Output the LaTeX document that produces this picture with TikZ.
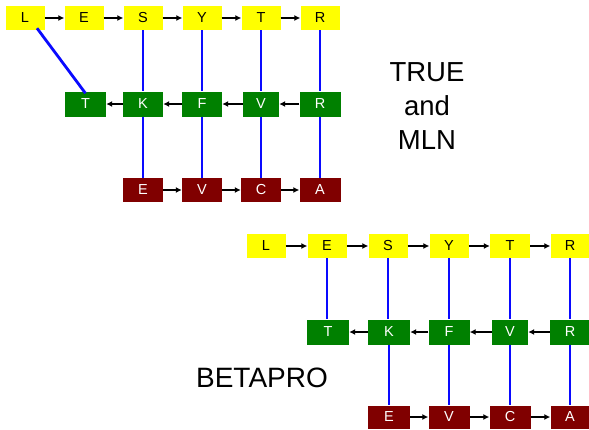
\documentclass[tikz,border=0pt]{standalone}
\usepackage{fontspec}
\setmainfont{Liberation Sans}
\usetikzlibrary{arrows.meta}
\definecolor{boxyellow}{RGB}{255,255,0}
\definecolor{boxgreen}{RGB}{0,128,0}
\definecolor{boxred}{RGB}{128,0,0}
\definecolor{linkblue}{RGB}{10,10,255}
\begin{document}
\begin{tikzpicture}[x=1pt,y=-1pt,
  cell/.style={minimum width=39pt,minimum height=24pt,inner sep=0pt,font=\fontsize{14.5}{14.5}\selectfont},
  ybox/.style={cell,fill=boxyellow,text=black},
  gbox/.style={cell,fill=boxgreen,text=white,minimum width=40pt,minimum height=25pt},
  rbox/.style={cell,fill=boxred,text=white,minimum width=40pt},
  flow/.style={black,line width=1.4pt,-{Latex[length=6pt,width=6pt]}},
  link/.style={linkblue,line width=2pt},
  biglabel/.style={align=center,font=\fontsize{27.5}{34}\selectfont}]
\useasboundingbox (0,0) rectangle (589,429);
\fill[white] (0,0) rectangle (589,429);

% ---- upper diagram ----
\node[ybox] (aL) at (25,18) {L};
\node[ybox] (aE) at (84,18) {E};
\node[ybox] (aS) at (143,18) {S};
\node[ybox] (aY) at (202,18) {Y};
\node[ybox] (aT) at (261,18) {T};
\node[ybox] (aR) at (320,18) {R};

\node[gbox,minimum width=41pt] (bT) at (85.5,104) {T};
\node[gbox] (bK) at (143,104) {K};
\node[gbox] (bF) at (202,104) {F};
\node[gbox,minimum width=36pt] (bV) at (261,104) {V};
\node[gbox,minimum width=41pt] (bR) at (320,104) {R};

\node[rbox] (cE) at (143,190) {E};
\node[rbox] (cV) at (202,190) {V};
\node[rbox] (cC) at (261,190) {C};
\node[rbox,minimum width=41pt] (cA) at (320,190) {A};

\draw[flow] (aL) -- (aE);
\draw[flow] (aE) -- (aS);
\draw[flow] (aS) -- (aY);
\draw[flow] (aY) -- (aT);
\draw[flow] (aT) -- (aR);
\draw[flow] (bR) -- (bV);
\draw[flow] (bV) -- (bF);
\draw[flow] (bF) -- (bK);
\draw[flow] (bK) -- (bT);
\draw[flow] (cE) -- (cV);
\draw[flow] (cV) -- (cC);
\draw[flow] (cC) -- (cA);

% slanted link from the first letter down to the green T
\coordinate (dA) at ([xshift=12pt,yshift=2pt]aL.south);
\coordinate (dB) at ([yshift=-2pt]bT.north);
\draw[link,line width=2.8pt] (dA) -- (dB);
\foreach \u/\v in {aS/bK,aY/bF,aT/bV,aR/bR,bK/cE,bF/cV,bV/cC,bR/cA}
  \draw[link] (\u.south) -- (\u.south |- \v.north);

\node[biglabel] (lab1) at (427,106) {TRUE\\and\\MLN};

% ---- lower diagram ----
\node[ybox] (pL) at (266,246) {L};
\node[ybox] (pE) at (327,246) {E};
\node[ybox] (pS) at (388,246) {S};
\node[ybox] (pY) at (449,246) {Y};
\node[ybox,minimum width=40pt] (pT) at (510,246) {T};
\node[ybox] (pR) at (570,246) {R};

\node[gbox,minimum width=42pt] (qT) at (328,332) {T};
\node[gbox,minimum width=42pt] (qK) at (389,332) {K};
\node[gbox,minimum width=41pt] (qF) at (449,332) {F};
\node[gbox,minimum width=36pt] (qV) at (510,332) {V};
\node[gbox] (qR) at (570,332) {R};

\node[rbox,minimum width=42pt,minimum height=23pt] (sE) at (389,417) {E};
\node[rbox,minimum width=41pt,minimum height=23pt] (sV) at (449,417) {V};
\node[rbox,minimum width=41pt,minimum height=23pt] (sC) at (510,417) {C};
\node[rbox,minimum width=39pt,minimum height=23pt] (sA) at (570,417) {A};

\draw[flow] (pL) -- (pE);
\draw[flow] (pE) -- (pS);
\draw[flow] (pS) -- (pY);
\draw[flow] (pY) -- (pT);
\draw[flow] (pT) -- (pR);
\draw[flow] (qR) -- (qV);
\draw[flow] (qV) -- (qF);
\draw[flow] (qF) -- (qK);
\draw[flow] (qK) -- (qT);
\draw[flow] (sE) -- (sV);
\draw[flow] (sV) -- (sC);
\draw[flow] (sC) -- (sA);

\foreach \u/\v in {pE/qT,pS/qK,pY/qF,pT/qV,pR/qR,qK/sE,qF/sV,qV/sC,qR/sA}
  \draw[link] (\u.south) -- (\u.south |- \v.north);

\node[biglabel,font=\fontsize{28}{28}\selectfont] (lab2) at (262,378) {BETAPRO};
\end{tikzpicture}
\end{document}
